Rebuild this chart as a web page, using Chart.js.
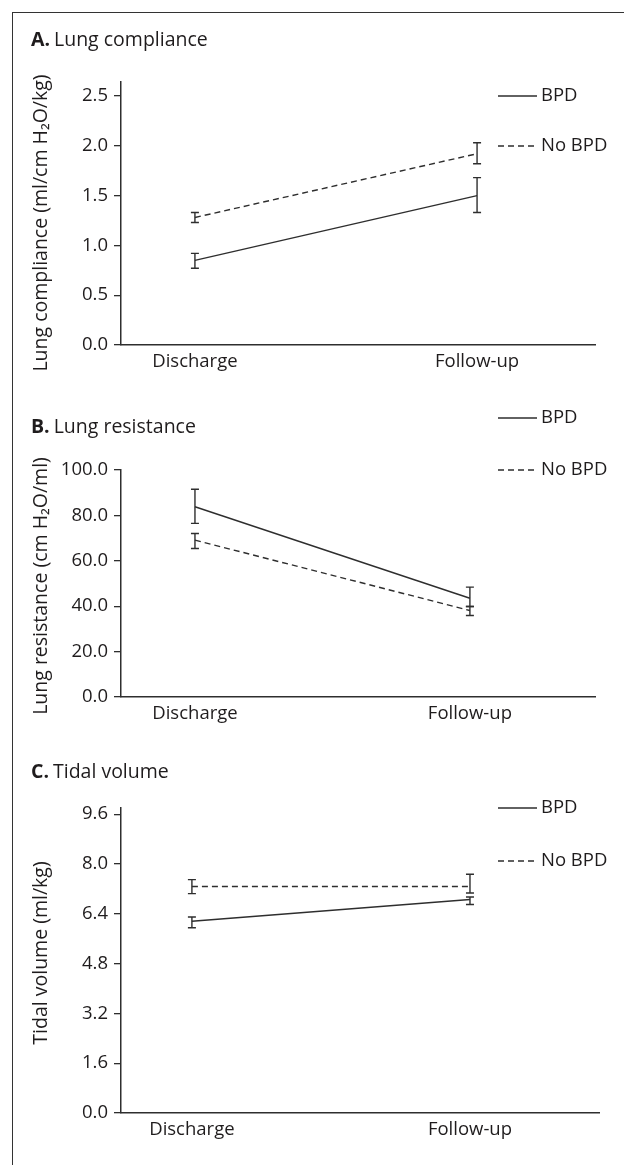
<!DOCTYPE html>
<html>
<head>
<meta charset="utf-8">
<script src="https://cdn.jsdelivr.net/npm/chart.js@4.4.1/dist/chart.umd.min.js"></script>
<style>
  html, body { margin: 0; padding: 0; background: #fff; }
  #page { position: relative; width: 624px; height: 1165px; overflow: hidden; }
  #frame { position: absolute; left: 12px; top: 12px; right: -2px; bottom: -2px;
           border-left: 1.5px solid #333; border-top: 1.5px solid #333; }
  canvas { position: absolute; left: 0; }
</style>
</head>
<body>
<div id="page">
  <div id="frame"></div>
  <canvas id="panelA" width="624" height="390" style="top:0px"></canvas>
  <canvas id="panelB" width="624" height="350" style="top:390px"></canvas>
  <canvas id="panelC" width="624" height="425" style="top:740px"></canvas>
</div>
<script>
// data (mean with lower / upper ends of the error bar)
const categories = ['Discharge', 'Follow-up'];
const seriesNames = ['BPD', 'No BPD'];

const complianceBpd = [0.85, 1.50];
const complianceBpdLo = [0.77, 1.33];
const complianceBpdHi = [0.92, 1.68];
const complianceNoBpd = [1.28, 1.92];
const complianceNoBpdLo = [1.23, 1.82];
const complianceNoBpdHi = [1.33, 2.03];
const complianceTicks = [0.0, 0.5, 1.0, 1.5, 2.0, 2.5];

const resistanceBpd = [83.8, 43.5];
const resistanceBpdLo = [76.5, 39.9];
const resistanceBpdHi = [91.5, 48.4];
const resistanceNoBpd = [69.1, 38.1];
const resistanceNoBpdLo = [65.4, 35.9];
const resistanceNoBpdHi = [72.0, 39.9];
const resistanceTicks = [0.0, 20.0, 40.0, 60.0, 80.0, 100.0];

const tidalBpd = [6.16, 6.86];
const tidalBpdLo = [5.95, 6.70];
const tidalBpdHi = [6.30, 6.94];
const tidalNoBpd = [7.28, 7.28];
const tidalNoBpdLo = [7.05, 7.07];
const tidalNoBpdHi = [7.50, 7.67];
const tidalTicks = [0.0, 1.6, 3.2, 4.8, 6.4, 8.0, 9.6];

const textColor = '#1f1c1d';
const lineColor = '#2e2e2e';
const fontFamily = '"Open Sans", "Noto Sans", sans-serif';

// error bars drawn through the chart scales
const errorBars = {
  id: 'errorBars',
  afterDatasetsDraw(chart) {
    const ctx = chart.ctx;
    const xs = chart.scales.x, ys = chart.scales.y;
    ctx.save();
    ctx.strokeStyle = lineColor;
    ctx.lineWidth = 1.4;
    ctx.setLineDash([]);
    chart.data.datasets.forEach(ds => {
      ds.data.forEach((p, i) => {
        const x = xs.getPixelForValue(p.x);
        const yLo = ys.getPixelForValue(ds.errLo[i]);
        const yHi = ys.getPixelForValue(ds.errHi[i]);
        ctx.beginPath();
        ctx.moveTo(x, yLo); ctx.lineTo(x, yHi);
        ctx.moveTo(x - 4, yLo); ctx.lineTo(x + 4, yLo);
        ctx.moveTo(x - 4, yHi); ctx.lineTo(x + 4, yHi);
        ctx.stroke();
      });
    });
    ctx.restore();
  }
};

// panel heading ("A." bold), rotated y title and the small legend at the right
const panelDecor = {
  id: 'panelDecor',
  afterDraw(chart, args, opts) {
    const ctx = chart.ctx;
    ctx.save();
    ctx.fillStyle = textColor;
    ctx.textBaseline = 'middle';
    ctx.textAlign = 'left';
    ctx.font = 'bold 19.5px ' + fontFamily;
    ctx.fillText(opts.letter, 31, opts.titleY);
    const w = ctx.measureText(opts.letter).width + 4;
    ctx.font = '19.5px ' + fontFamily;
    ctx.fillText(opts.title, 31 + w, opts.titleY);

    // y axis title
    ctx.save();
    ctx.translate(41, opts.yTitleY);
    ctx.rotate(-Math.PI / 2);
    ctx.textAlign = 'center';
    ctx.font = '19.5px ' + fontFamily;
    ctx.fillText(opts.yTitle, 0, 0);
    ctx.restore();

    ctx.font = '18.5px ' + fontFamily;
    chart.data.datasets.forEach((ds, i) => {
      const y = opts.legendY[i];
      ctx.strokeStyle = lineColor;
      ctx.lineWidth = 1.4;
      ctx.setLineDash(ds.borderDash || []);
      ctx.beginPath();
      ctx.moveTo(498, y); ctx.lineTo(537, y);
      ctx.stroke();
      ctx.setLineDash([]);
      ctx.fillText(ds.label, 541, y);
    });
    ctx.restore();
  }
};

function makePoints(values) {
  return values.map((v, i) => ({ x: i + 1, y: v }));
}

function makePanel(id, cfg) {
  const canvas = document.getElementById(id);
  const H = canvas.height;
  new Chart(canvas, {
    type: 'line',
    data: {
      datasets: [
        {
          label: seriesNames[0],
          data: makePoints(cfg.bpd),
          errLo: cfg.bpdLo, errHi: cfg.bpdHi,
          borderColor: lineColor, borderWidth: 1.4,
          pointRadius: 0, tension: 0, fill: false
        },
        {
          label: seriesNames[1],
          data: makePoints(cfg.noBpd),
          errLo: cfg.noBpdLo, errHi: cfg.noBpdHi,
          borderColor: lineColor, borderWidth: 1.4, borderDash: [6, 4],
          pointRadius: 0, tension: 0, fill: false
        }
      ]
    },
    options: {
      responsive: false,
      animation: false,
      devicePixelRatio: 1,
      layout: { padding: { top: cfg.areaTop, right: 624 - cfg.areaRight, left: 0, bottom: 0 } },
      scales: {
        x: {
          type: 'linear',
          min: cfg.xMin, max: cfg.xMax,
          afterBuildTicks: s => { s.ticks = categories.map((c, i) => ({ value: i + 1 })); },
          afterFit: s => { s.height = H - cfg.areaBottom; },
          grid: { display: false, drawTicks: false },
          border: { display: true, color: lineColor, width: 1.5 },
          ticks: {
            color: textColor, padding: 6, maxRotation: 0,
            font: { family: fontFamily, size: 18.5 },
            callback: v => categories[v - 1]
          }
        },
        y: {
          min: 0, max: cfg.yMax,
          afterBuildTicks: s => { s.ticks = cfg.ticks.map(v => ({ value: v })); },
          afterFit: s => { s.width = 121; },
          grid: { drawOnChartArea: false, drawTicks: true, tickLength: 7, color: lineColor, lineWidth: 1.3 },
          border: { display: true, color: lineColor, width: 1.5 },
          ticks: {
            color: textColor, padding: 6,
            font: { family: fontFamily, size: 18.5 },
            callback: v => v.toFixed(1)
          },
          title: { display: false }
        }
      },
      plugins: {
        legend: { display: false },
        tooltip: { enabled: false },
        panelDecor: {
          letter: cfg.letter, title: cfg.title, titleY: cfg.titleY, legendY: cfg.legendY,
          yTitle: cfg.yTitle, yTitleY: cfg.yTitleY
        }
      }
    },
    plugins: [errorBars, panelDecor]
  });
}

makePanel('panelA', {
  letter: 'A.', title: 'Lung compliance', titleY: 40, legendY: [96, 146],
  yTitle: 'Lung compliance (ml/cm H\u2082O/kg)', yTitleY: 223,
  bpd: complianceBpd, bpdLo: complianceBpdLo, bpdHi: complianceBpdHi,
  noBpd: complianceNoBpd, noBpdLo: complianceNoBpdLo, noBpdHi: complianceNoBpdHi,
  ticks: complianceTicks, yMax: 2.64,
  areaTop: 82, areaBottom: 345, areaRight: 595, xMin: 0.738, xMax: 2.418
});

makePanel('panelB', {
  letter: 'B.', title: 'Lung resistance', titleY: 37, legendY: [28, 80],
  yTitle: 'Lung resistance (cm H\u2082O/ml)', yTitleY: 196,
  bpd: resistanceBpd, bpdLo: resistanceBpdLo, bpdHi: resistanceBpdHi,
  noBpd: resistanceNoBpd, noBpdLo: resistanceNoBpdLo, noBpdHi: resistanceNoBpdHi,
  ticks: resistanceTicks, yMax: 100,
  areaTop: 80, areaBottom: 307, areaRight: 595, xMin: 0.731, xMax: 2.455
});

makePanel('panelC', {
  letter: 'C.', title: 'Tidal volume', titleY: 32, legendY: [68, 121],
  yTitle: 'Tidal volume (ml/kg)', yTitleY: 213,
  bpd: tidalBpd, bpdLo: tidalBpdLo, bpdHi: tidalBpdHi,
  noBpd: tidalNoBpd, noBpdLo: tidalNoBpdLo, noBpdHi: tidalNoBpdHi,
  ticks: tidalTicks, yMax: 9.8,
  areaTop: 68, areaBottom: 373, areaRight: 599, xMin: 0.745, xMax: 2.464
});
</script>
</body>
</html>
